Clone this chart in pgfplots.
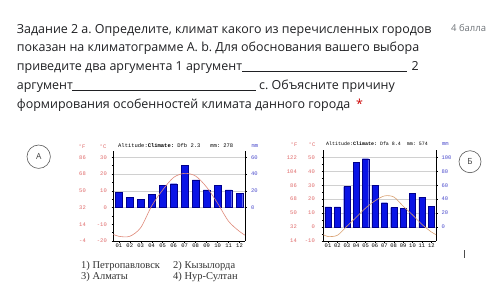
\documentclass[border=0pt]{standalone}
\usepackage{fontspec}
\setmainfont{Open Sans}
\newfontfamily\monof{Liberation Mono}
\newfontfamily\serf{Liberation Serif}
\usepackage{pgfplots}
\pgfplotsset{compat=1.18}
\definecolor{txt}{HTML}{202124}
\definecolor{gry}{HTML}{70757A}
\definecolor{tred}{HTML}{E06A6A}
\definecolor{mmb}{HTML}{4A4ACC}
\definecolor{barb}{HTML}{0A14E6}
\definecolor{bare}{HTML}{00008C}
\definecolor{lineA}{HTML}{E08A7A}
\definecolor{lineB}{HTML}{D9A070}
\definecolor{gridc}{HTML}{D0D0D0}
\newcommand\FCa[2]{\makebox[10bp][r]{#1}\makebox[21bp][r]{#2}}
\newcommand\FCb[2]{\makebox[10bp][r]{#1}\makebox[18bp][r]{#2}}
\newcommand\tickf{\monof\fontsize{5.5}{6}\selectfont}
\frenchspacing
\pgfplotsset{
  clim/.style={scale only axis, xmin=0.5, xmax=12.5,
    tick align=outside, major tick length=1.8bp, minor tick length=1bp,
    every tick/.style={black, line width=0.4pt},
    axis line style={black, line width=0.5pt},
    ticklabel style={font=\tickf, inner sep=0pt}},
}
\begin{document}
\begin{tikzpicture}
\begin{scope}[x=1bp,y=1bp]
\fill[white] (0,0) rectangle (500,296);
\path[use as bounding box] (0,0) rectangle (500,296);

% ---- question text
\begin{scope}[every node/.style={anchor=base west, inner sep=0pt, text=txt, font=\fontsize{12.5}{14}\selectfont}]
\node at (16.7,263) {Задание 2 a. Определите, климат какого из перечисленных городов};
\node at (16.7,244.2) {показан на климатограмме A. b. Для обоснования вашего выбора};
\node at (16.7,225.4) {приведите два аргумента 1 аргумент};
\node at (411.5,225.4) {2};
\node at (16.7,206.6) {аргумент};
\node at (259,206.6) {c. Объясните причину};
\node (last) at (16.7,187.8) {формирования особенностей климата данного города};
\node[text=red!80!black] at (356,187.8) {*};
\node[text=gry, font=\fontsize{9.5}{11}\selectfont] at (451,264.3) {4 балла};
\end{scope}
\draw[txt, line width=0.7pt] (242,224.3) -- (407,224.3);
\draw[txt, line width=0.7pt] (72,205.5) -- (256,205.5);

% ---- circles
\draw[black!65, line width=0.6pt] (38.7,139.3) circle (11.7);
\node[text=black!75, font=\fontsize{8.5}{9}\selectfont] at (38.7,139.3) {А};
\draw[black!65, line width=0.6pt] (470,134.3) circle (11);
\node[text=black!75, font=\fontsize{8.5}{9}\selectfont] at (470,134.3) {Б};
\draw[black!70, line width=1pt] (464,46) -- (464,38);

\node[anchor=east, inner sep=0pt, text=tred, font=\tickf] at (85.5,149) {°F};
\node[anchor=east, inner sep=0pt, text=tred, font=\tickf] at (106.5,149) {°C};
\node[anchor=west, inner sep=0pt, text=mmb, font=\tickf] at (251.5,150) {mm};
\node[anchor=west, inner sep=0pt, font=\tickf] at (118,150) {Altitude:\textbf{Climate:} Dfb 2.3~~~mm: 278};
\node[anchor=east, inner sep=0pt, text=tred, font=\tickf] at (297.5,151.7) {°F};
\node[anchor=east, inner sep=0pt, text=tred, font=\tickf] at (315.5,151.7) {°C};
\node[anchor=west, inner sep=0pt, text=mmb, font=\tickf] at (442,151.7) {mm};
\node[anchor=west, inner sep=0pt, font=\monof\fontsize{5}{6}\selectfont] at (326,152) {Altitude:\textbf{Climate:} Dfa 8.4~~mm: 574};

% ---- options list
\begin{scope}[every node/.style={anchor=base west, inner sep=0pt, text=black!80, font=\serf\fontsize{10.5}{12}\selectfont}]
\node at (81,27.7) {1) Петропавловск};
\node at (173,27.7) {2) Кызылорда};
\node at (81,17) {3) Алматы};
\node at (173,17) {4) Нур-Султан};
\end{scope}
\end{scope}

% ================= Chart A
\begin{axis}[clim, at={(113.3bp,55bp)}, anchor=south west, width=131.7bp, height=90.4bp,
  ymin=-40, ymax=68, axis y line*=right, axis x line=none,
  ytick={0,20,40,60}, yticklabels={0,20,40,60},
  ymajorgrids, grid style={gridc, line width=0.5pt},
  yticklabel style={text=mmb, anchor=west, xshift=4bp}]
\addplot[ybar, bar width=0.58, fill=barb, draw=bare, line width=0.3pt] coordinates {
 (1,18.4) (2,12) (3,10) (4,16) (5,26.4) (6,28.4) (7,50.4) (8,33) (9,21) (10,26.4) (11,21) (12,17)};
\end{axis}
\begin{axis}[clim, at={(113.3bp,55bp)}, anchor=south west, width=131.7bp, height=90.4bp,
  ymin=-20, ymax=34, axis y line*=left, axis x line*=bottom,
  xtick={1,...,12}, xticklabels={01,02,03,04,05,06,07,08,09,10,11,12},
  xticklabel style={anchor=north, yshift=-1.2bp},
  ytick={-20,-10,0,10,20,30}, minor y tick num=1,
  yticklabels={{\FCa{-4}{-20}},{\FCa{14}{-10}},{\FCa{32}{0}},{\FCa{50}{10}},{\FCa{68}{20}},{\FCa{86}{30}}},
  yticklabel style={text=tred, anchor=east, xshift=-4.5bp}]
\addplot[lineA, line width=0.6pt, smooth, tension=0.5] coordinates {
 (0.5,-16) (1,-17.2) (2,-17.2) (3,-12) (4,1) (5,10.5) (6,18) (7,20.4) (8,18.8) (9,12.2) (10,2.6) (11,-8.2) (12,-14.3) (12.5,-16.5)};
\end{axis}

% ================= Chart B
\begin{axis}[clim, at={(323.3bp,55bp)}, anchor=south west, width=112.7bp, height=90.65bp,
  ymin=-20, ymax=110, axis y line*=right, axis x line=none,
  ytick={0,20,40,60,80,100}, yticklabels={0,20,40,60,80,100},
  ymajorgrids, grid style={gridc, line width=0.5pt},
  yticklabel style={text=mmb, anchor=west, xshift=3.5bp}]
\addplot[ybar, bar width=0.66, fill=barb, draw=bare, line width=0.3pt] coordinates {
 (1,29) (2,29) (3,58) (4,93) (5,98) (6,60) (7,35) (8,28) (9,27) (10,48) (11,43) (12,30)};
\end{axis}
\begin{axis}[clim, at={(323.3bp,55bp)}, anchor=south west, width=112.7bp, height=90.65bp,
  ymin=-10, ymax=55, axis y line*=left, axis x line*=bottom,
  xtick={1,...,12}, xticklabels={01,02,03,04,05,06,07,08,09,10,11,12},
  xticklabel style={anchor=north, yshift=-1.2bp},
  ytick={-10,0,10,20,30,40,50}, minor y tick num=1,
  yticklabels={{\FCb{14}{-10}},{\FCb{32}{0}},{\FCb{50}{10}},{\FCb{68}{20}},{\FCb{86}{30}},{\FCb{104}{40}},{\FCb{122}{50}}},
  yticklabel style={text=tred, anchor=east, xshift=-6.5bp}]
\addplot[lineB, line width=0.6pt, smooth, tension=0.5] coordinates {
 (0.5,-5.4) (1,-6.8) (2,-5.9) (3,0.5) (4,7) (5,13.6) (6,18.8) (7,22.3) (8,21.6) (9,15) (10,8.7) (11,1.9) (12,-3.5) (12.5,-5.4)};
\end{axis}
\end{tikzpicture}
\end{document}
